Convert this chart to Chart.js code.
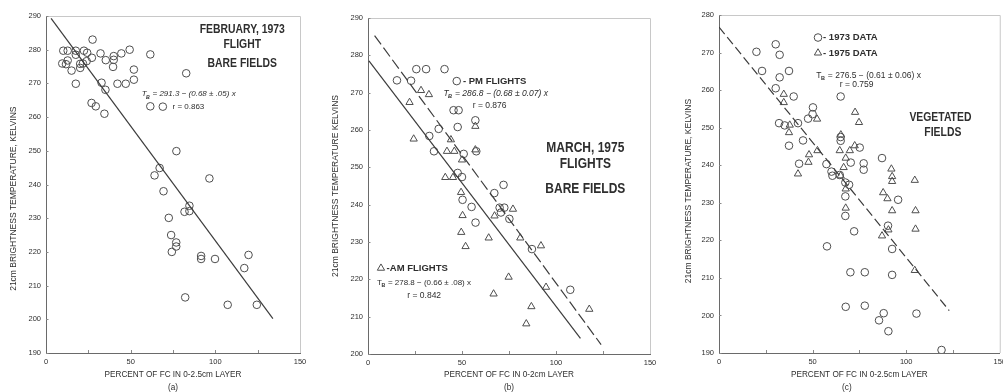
<!DOCTYPE html>
<html>
<head>
<meta charset="utf-8">
<script src="https://cdn.jsdelivr.net/npm/chart.js@4.4.1/dist/chart.umd.min.js"></script>
<style>
  body { margin: 0; width: 1003px; height: 392px; overflow: hidden; background: #fff; position: relative; }
  canvas { position: absolute; top: 0; }
</style>
</head>
<body>
<canvas id="chartA" width="325" height="392" style="left:0px"></canvas>
<canvas id="chartB" width="335" height="392" style="left:330px"></canvas>
<canvas id="chartC" width="345" height="392" style="left:665px"></canvas>
<script>
// ---- data ----
// (a) February 1973 flight, bare fields
const febX = [10.2, 12.8, 17.6, 22.4, 24.3, 27.5, 32.2, 40, 40, 44.5, 49.4, 61.6, 9.6, 11.8, 12.8, 17.6, 15.1, 20.2, 20.2, 21.8,
  24.0, 27.1, 17.6, 32.8, 35.1, 35.3, 39.6, 42.2, 47.1, 51.9, 51.9, 82.8, 26.9, 29.4, 34.5, 61.6, 69, 77, 67.1, 64.1,
  69.4, 96.5, 72.5, 73.9, 74.3, 76.9, 76.9, 81.8, 84.7, 84.7, 91.6, 91.6, 99.8, 82.2, 107.3, 117.1, 119.6, 124.5];
const febY = [279.7, 279.7, 279.7, 279.7, 279.1, 283, 278.9, 278.1, 277, 278.9, 280, 278.6, 275.9, 275.7, 276.8, 278.5, 273.8, 275.8, 274.6, 275.9,
  276.6, 277.6, 269.9, 270.2, 268.1, 276.9, 274.9, 269.9, 269.9, 271.1, 274.1, 273, 264.2, 263.2, 261, 263.2, 263.1, 249.9, 244.9, 242.7,
  238, 241.8, 230.1, 225, 220, 222.8, 221.6, 231.9, 233.7, 232.1, 218.8, 217.9, 217.9, 206.5, 204.3, 215.2, 219.1, 204.3];
const febFitX = [3, 134];
const febFitY = [289.3, 200.2];

// (b) March 1975 flights, bare fields
const pmX = [15.4, 22.9, 25.7, 30.9, 40.7, 32.6, 37.6, 47.7, 35.1, 45.5, 48.2, 57.1, 57.6, 47.7, 50, 50.9, 72.1, 67.2, 50.3, 55.1,
  57.2, 70, 72.5, 70.7, 75.2, 87.2, 107.6];
const pmY = [273.3, 273.2, 276.3, 276.3, 276.3, 258.4, 260.3, 260.8, 254.3, 265.3, 265.3, 262.6, 254.3, 248.5, 247.4, 253.6, 245.3, 243.1, 241.3, 239.4,
  235.2, 239.2, 239.2, 237.9, 236.2, 228.1, 217.2];
const amX = [28.2, 32.4, 22.1, 24.3, 44.1, 42, 45.9, 50, 57.1, 57.1, 41.1, 45.2, 49.5, 50.3, 49.6, 51.9, 64.2, 67.3, 77.1, 81,
  92, 74.8, 66.8, 94.7, 86.9, 84.2, 117.7];
const amY = [270.6, 269.5, 267.4, 257.6, 257.4, 254.3, 254.3, 252, 261, 254.7, 247.3, 247.3, 243.3, 237.1, 232.6, 228.8, 231.1, 237, 238.8, 231.1,
  229, 220.6, 216.1, 217.9, 212.7, 208.1, 212];
const pmFitX = [3.5, 124];
const pmFitY = [285.3, 202.5];
const amFitX = [0.5, 113];
const amFitY = [278.5, 204.2];

// (c) vegetated fields
const veg73X = [20, 23, 30.3, 32.4, 32.4, 37.4, 30.3, 39.9, 32.1, 35.1, 42.2, 37.4, 44.9, 50.2, 50, 47.6, 42.8, 57.4, 60.1, 60.6,
  64.5, 65, 65, 65, 67.5, 69.5, 70.4, 75.2, 77.3, 77.3, 87.1, 67.5, 95.7, 67.5, 72.2, 57.7, 70.2, 77.9, 90.3, 92.5,
  92.5, 67.7, 77.9, 88, 85.5, 90.5, 105.5, 118.9];
const veg73Y = [270.2, 265.1, 272.2, 269.4, 263.4, 265.1, 260.5, 258.3, 251.2, 250.6, 251.2, 245.2, 246.6, 255.4, 253.6, 252.4, 240.4, 240.3, 238.3, 237.2,
  237.4, 258.3, 247.5, 246.5, 235.4, 234.8, 240.7, 244.7, 240.5, 238.8, 241.9, 231.7, 230.8, 226.5, 222.4, 218.4, 211.5, 211.5, 223.9, 217.7,
  210.8, 202.3, 202.6, 200.6, 198.7, 195.8, 200.5, 190.8];
const veg75X = [34.6, 34.6, 37.8, 37.4, 52.4, 48.1, 47.8, 42.2, 52.6, 65.1, 64.5, 69.9, 72.5, 72.7, 74.8, 67.7, 66.6, 65, 67.7, 92.1,
  92.5, 92.5, 104.6, 87.7, 90, 67.7, 92.5, 105, 105, 90.5, 87.1, 104.6];
const veg75Y = [258.9, 256.7, 250.7, 248.7, 252.3, 242.8, 240.8, 237.7, 243.9, 248.1, 243.9, 243.9, 245.2, 254.1, 251.4, 241.9, 239.4, 237.2, 233.7, 239,
  237, 235.7, 236, 232.7, 231.1, 228.6, 227.9, 227.9, 223, 222.8, 221.2, 212];
const vegFitX = [0, 123];
const vegFitY = [276.8, 201.3];

const xTicks = [0, 50, 100, 150];

// ---- drawing ----
const INK = '#2e2e2e';
const AXIS = '#6a6a6a';
const FONT = "'Liberation Sans', Arial, sans-serif";
Chart.defaults.font.family = FONT;
Chart.defaults.color = INK;

function pts(xs, ys) { return xs.map((x, i) => ({ x: x, y: ys[i] })); }

function marks(xs, ys, style) {
  return {
    type: 'scatter', data: pts(xs, ys), pointStyle: style,
    pointRadius: style === 'triangle' ? 4.2 : 3.8, pointBorderWidth: 1,
    pointBorderColor: '#4e4e4e', pointBackgroundColor: 'rgba(255,255,255,0)', showLine: false
  };
}

function fit(xs, ys, dash) {
  return {
    type: 'line', data: pts(xs, ys), borderColor: '#3c3c3c', borderWidth: 1.2,
    borderDash: dash || [], pointRadius: 0, fill: false
  };
}

// light frame on top/right and small inward ticks, as in the scan
const framePlugin = {
  id: 'frame',
  afterDraw(chart) {
    const { ctx, chartArea: a, scales } = chart;
    ctx.save();
    ctx.strokeStyle = '#c8c8c8';
    ctx.lineWidth = 1;
    ctx.beginPath();
    ctx.moveTo(a.left, a.top + 0.5); ctx.lineTo(a.right + 0.5, a.top + 0.5); ctx.lineTo(a.right + 0.5, a.bottom);
    ctx.stroke();
    ctx.strokeStyle = '#888';
    ctx.beginPath();
    for (let v = 25; v < 150; v += 25) {
      const px = Math.round(scales.x.getPixelForValue(v)) + 0.5;
      ctx.moveTo(px, a.bottom); ctx.lineTo(px, a.bottom - 3);
    }
    scales.y.ticks.forEach(t => {
      const py = Math.round(scales.y.getPixelForValue(t.value)) + 0.5;
      ctx.moveTo(a.left, py); ctx.lineTo(a.left + 2.5, py);
    });
    ctx.stroke();
    ctx.restore();
  }
};

// text notes placed in data coordinates
const notesPlugin = {
  id: 'notes',
  afterDraw(chart, args, opts) {
    const ctx = chart.ctx, sx = chart.scales.x, sy = chart.scales.y;
    (opts.items || []).forEach(it => {
      const px = sx.getPixelForValue(it.x), py = sy.getPixelForValue(it.y);
      const size = it.size || 8;
      ctx.save();
      ctx.fillStyle = INK; ctx.strokeStyle = '#4e4e4e'; ctx.lineWidth = 1;
      ctx.textBaseline = 'middle';
      if (it.mark) {
        ctx.fillStyle = 'rgba(255,255,255,0)';
        Chart.helpers.drawPoint(ctx, { pointStyle: it.mark, radius: it.mark === 'triangle' ? 4.2 : 3.8, borderWidth: 1, rotation: 0 }, px, py);
      } else if (it.eq) {
        const st = it.italic ? 'italic ' : '';
        ctx.textAlign = 'left';
        ctx.font = st + size + 'px ' + FONT;
        ctx.fillText('T', px, py);
        let w = ctx.measureText('T').width;
        ctx.font = st + 'bold ' + (size * 0.65) + 'px ' + FONT;
        ctx.fillText('B', px + w - 0.5, py + 3);
        w += ctx.measureText('B').width;
        ctx.font = st + size + 'px ' + FONT;
        ctx.fillText(it.eq, px + w, py);
      } else {
        ctx.font = (it.bold ? 'bold ' : '') + size + 'px ' + FONT;
        ctx.textAlign = it.align || 'left';
        ctx.translate(px, py);
        ctx.scale(it.sx || 1, 1);
        ctx.fillText(it.text, 0, 0);
      }
      ctx.restore();
    });
  }
};

function scales(o) {
  return {
    x: {
      type: 'linear', min: 0, max: 150,
      afterFit: s => { s.height = o.xH; },
      afterBuildTicks: s => { s.ticks = xTicks.map(v => ({ value: v })); },
      ticks: { padding: 4, font: { size: 7.5 }, color: INK },
      grid: { display: true, drawOnChartArea: false, drawTicks: false },
      border: { color: AXIS, width: 1 },
      title: { display: true, text: o.xTitle, font: { size: 8.2, lineHeight: 1.6 }, color: INK, padding: { top: 0, bottom: -2 } }
    },
    y: {
      type: 'linear', min: o.yMin, max: o.yMax,
      afterFit: s => { s.width = o.yW; },
      ticks: { stepSize: 10, padding: 5, font: { size: 7.5 }, color: INK },
      grid: { display: true, drawOnChartArea: false, drawTicks: false },
      border: { color: AXIS, width: 1 },
      title: { display: true, text: o.yTitle, font: { size: 8.5 }, color: INK, padding: { top: o.yTitlePad, bottom: 0 } }
    }
  };
}

function makeChart(id, datasets, o, notes) {
  return new Chart(document.getElementById(id), {
    type: 'scatter',
    data: { datasets: datasets },
    options: {
      responsive: false, animation: false,
      layout: { padding: { top: o.top, right: o.right, left: 0, bottom: 0 } },
      scales: scales(o),
      plugins: { legend: { display: false }, tooltip: { enabled: false }, notes: { items: notes } }
    },
    plugins: [framePlugin, notesPlugin]
  });
}

const HEAD = { bold: true, size: 13, sx: 0.8, align: 'center' };

makeChart('chartA', [fit(febFitX, febFitY), marks(febX, febY, 'circle')], {
  top: 16, right: 25, xH: 39, yW: 46, yMin: 190, yMax: 290, yTitlePad: 9,
  xTitle: ['PERCENT OF FC IN 0-2.5cm LAYER', '(a)'],
  yTitle: '21cm BRIGHTNESS TEMPERATURE, KELVINS            '
}, [
  Object.assign({ text: 'FEBRUARY, 1973', x: 115.9, y: 286.1 }, HEAD),
  Object.assign({ text: 'FLIGHT', x: 115.9, y: 281.6 }, HEAD),
  Object.assign({ text: 'BARE FIELDS', x: 115.9, y: 276 }, HEAD),
  { eq: ' = 291.3 \u2212 (0.68 \u00b1 .05) x', x: 56.5, y: 266.8, italic: true, size: 8 },
  { text: 'r = 0.863', x: 74.7, y: 263.2, size: 8 }
]);

makeChart('chartB', [fit(amFitX, amFitY), fit(pmFitX, pmFitY, [11, 4]), marks(pmX, pmY, 'circle'), marks(amX, amY, 'triangle')], {
  top: 18, right: 15, xH: 38, yW: 38, yMin: 200, yMax: 290, yTitlePad: 1,
  xTitle: ['PERCENT OF FC IN 0-2cm LAYER', '(b)'],
  yTitle: '21cm BRIGHTNESS TEMPERATURE KELVINS'
}, [
  { mark: 'circle', x: 47.2, y: 273.1 },
  { text: '- PM FLIGHTS', x: 50.5, y: 273.1, bold: true, size: 9.5 },
  { eq: ' = 286.8 \u2212 (0.68 \u00b1 0.07) x', x: 40.1, y: 269.7, italic: true, size: 8.5 },
  { text: 'r = 0.876', x: 55.7, y: 266.5, size: 8.5 },
  Object.assign({ text: 'MARCH, 1975', x: 115.6, y: 255.3 }, HEAD, { size: 15 }),
  Object.assign({ text: 'FLIGHTS', x: 115.6, y: 251 }, HEAD, { size: 15 }),
  Object.assign({ text: 'BARE FIELDS', x: 115.6, y: 244.3 }, HEAD, { size: 15 }),
  { mark: 'triangle', x: 6.9, y: 223 },
  { text: '-AM FLIGHTS', x: 9.9, y: 223, bold: true, size: 9.5 },
  { eq: ' = 278.8 \u2212 (0.66 \u00b1 .08) x', x: 4.8, y: 219, size: 8 },
  { text: 'r = 0.842', x: 20.9, y: 215.6, size: 8.5 }
]);

makeChart('chartC', [fit(vegFitX, vegFitY, [9, 4]), marks(veg73X, veg73Y, 'circle'), marks(veg75X, veg75Y, 'triangle')], {
  top: 15, right: 10, xH: 39, yW: 54, yMin: 190, yMax: 280, yTitlePad: 19,
  xTitle: ['PERCENT OF FC IN 0-2.5cm LAYER', '(c)           '],
  yTitle: '21cm BRIGHTNESS TEMPERATURE, KELVINS      '
}, [
  { mark: 'circle', x: 52.9, y: 274 },
  { text: '- 1973 DATA', x: 55.6, y: 274, bold: true, size: 9.5 },
  { mark: 'triangle', x: 52.9, y: 269.9 },
  { text: '- 1975 DATA', x: 55.6, y: 269.9, bold: true, size: 9.5 },
  { eq: ' = 276.5 \u2212 (0.61 \u00b1 0.06) x', x: 52, y: 263.8, size: 8.5 },
  { text: 'r = 0.759', x: 64.5, y: 261.4, size: 8.5 },
  Object.assign({ text: 'VEGETATED', x: 118.3, y: 252.8 }, HEAD),
  Object.assign({ text: 'FIELDS', x: 119.6, y: 248.7 }, HEAD)
]);
</script>
</body>
</html>
